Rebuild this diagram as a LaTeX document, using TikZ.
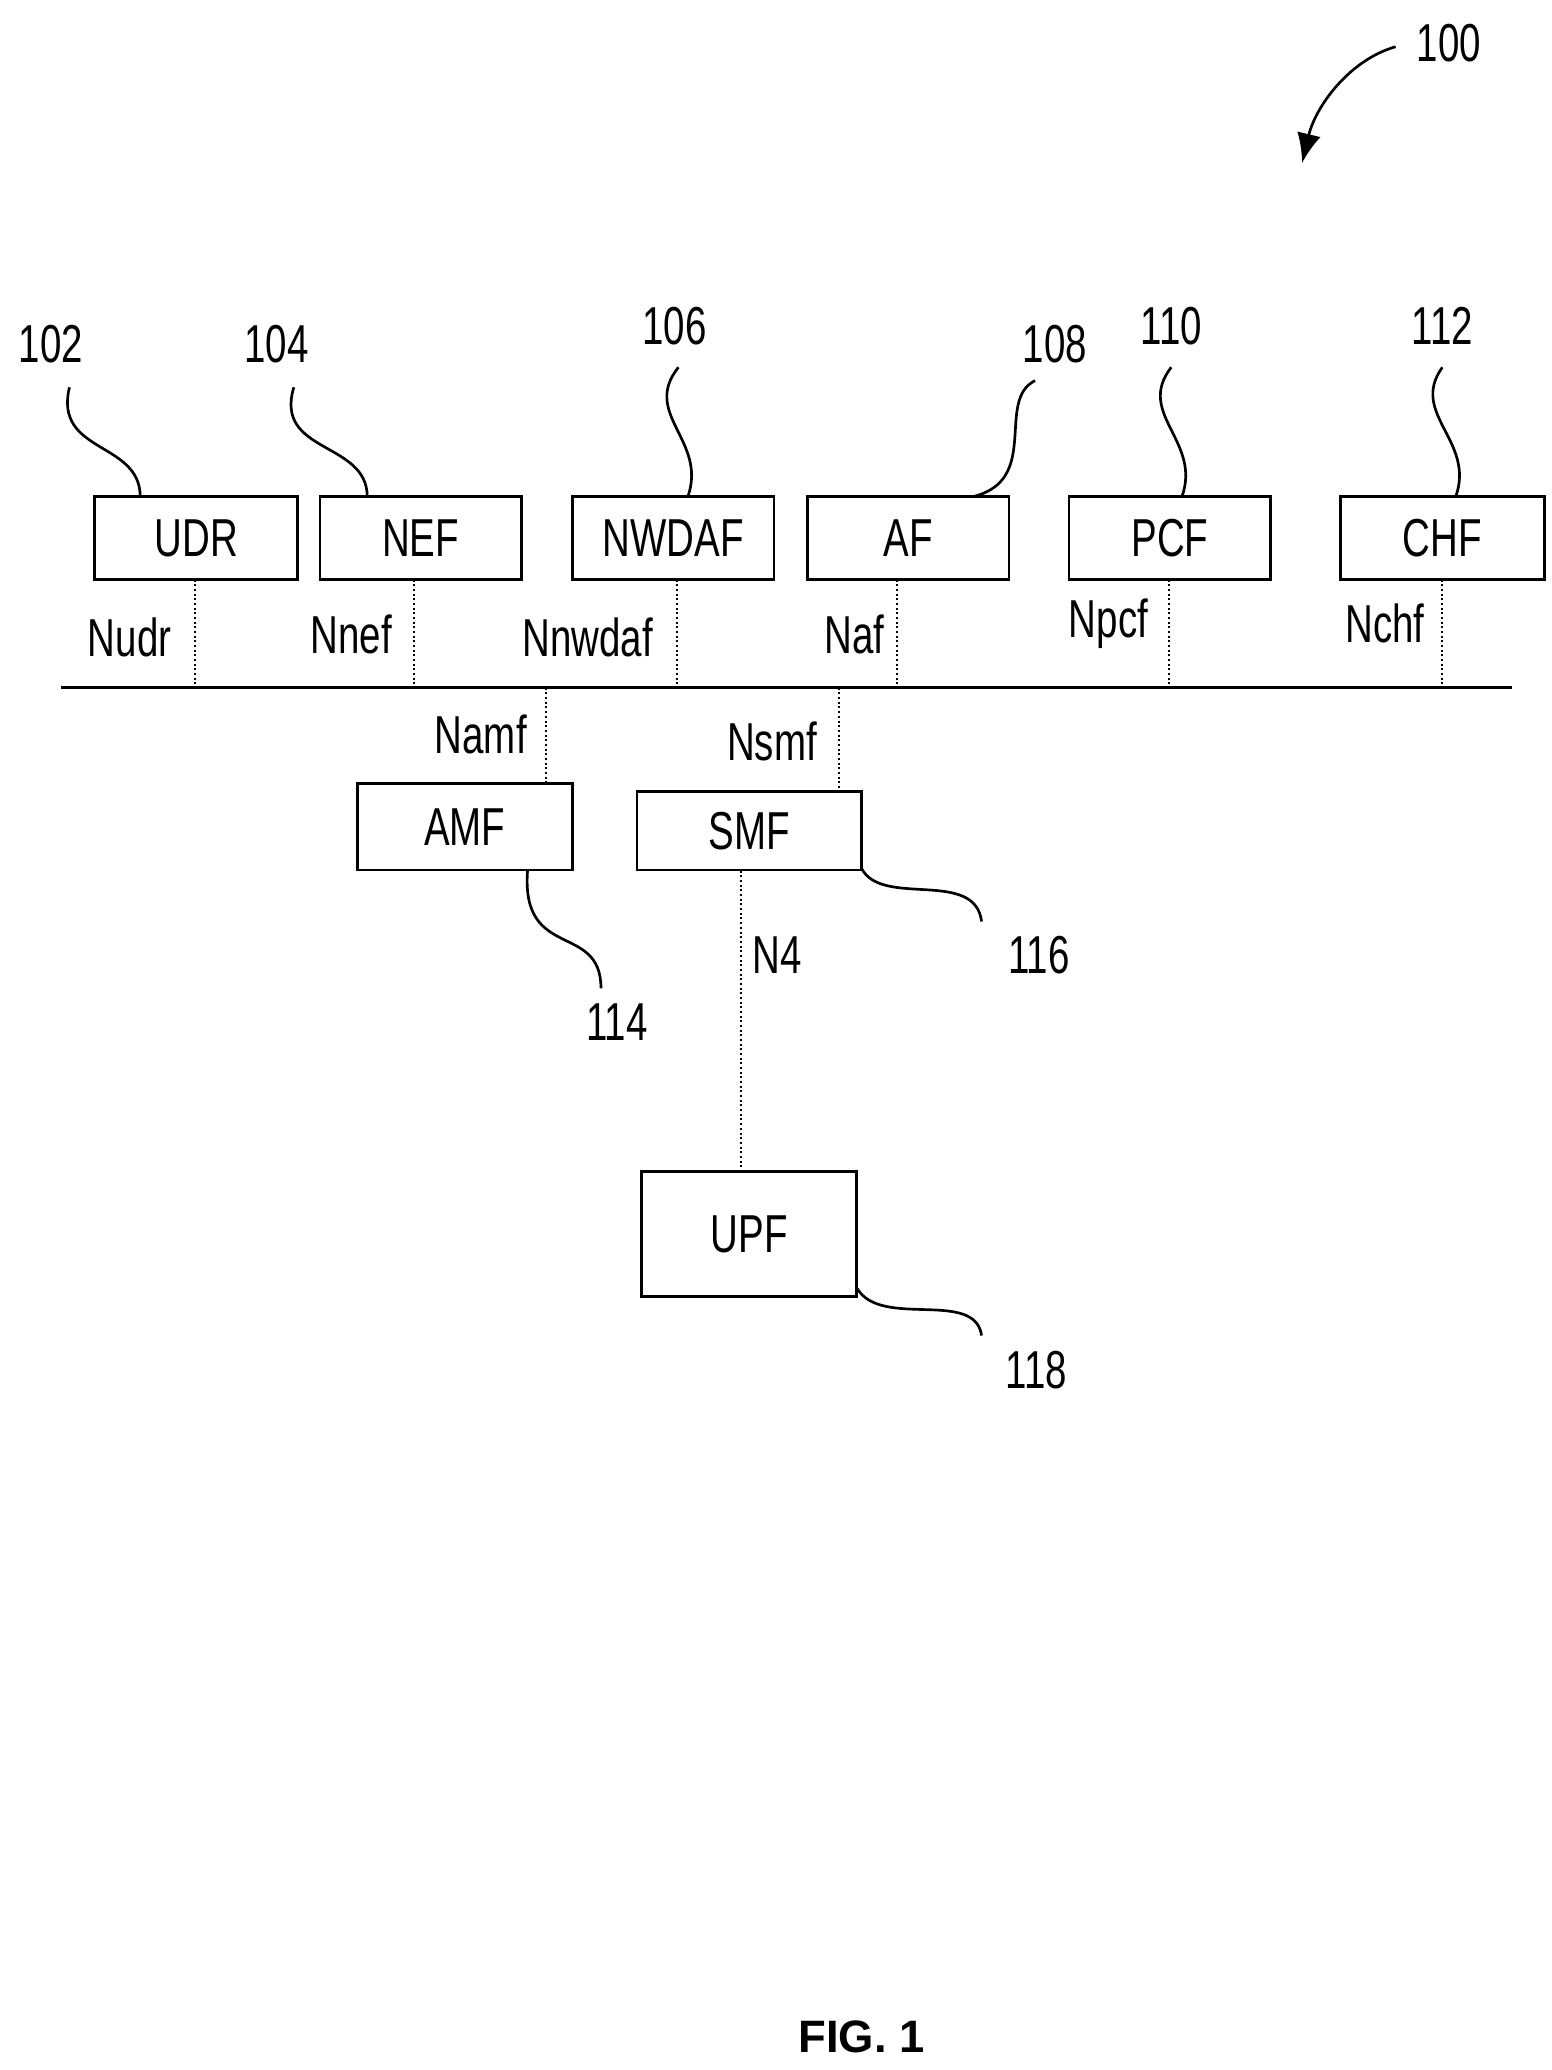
\documentclass[tikz,border=0pt]{standalone}
\usepackage{fontspec}
\usetikzlibrary{arrows.meta}
\setmainfont{Liberation Sans}[FakeStretch=0.72]
\newfontfamily\figfont{Liberation Sans}
\begin{document}
\begin{tikzpicture}[x=1pt,y=-1pt,
  box/.style={draw,line width=2pt,inner sep=0pt,font=\fontsize{40}{44}\selectfont},
  lbl/.style={font=\fontsize{40}{44}\selectfont,inner sep=0pt},
  dl/.style={line width=1.5pt,dotted},
  sq/.style={line width=2pt}]
\useasboundingbox (0,0) rectangle (1162,1550);
\node[box,minimum width=152pt,minimum height=62pt] (udr) at (147,403) {UDR};
\node[box,minimum width=151pt,minimum height=62pt] (nef) at (315,403) {NEF};
\node[box,minimum width=151pt,minimum height=62pt] (nwdaf) at (504,403) {NWDAF};
\node[box,minimum width=151pt,minimum height=62pt] (af) at (680,403) {AF};
\node[box,minimum width=151pt,minimum height=62pt] (pcf) at (876,403) {PCF};
\node[box,minimum width=153pt,minimum height=62pt] (chf) at (1080,403) {CHF};
\node[box,minimum width=161pt,minimum height=65pt] (amf) at (348,619) {AMF};
\node[box,minimum width=168pt,minimum height=59pt] (smf) at (561,622) {SMF};
\node[box,minimum width=161pt,minimum height=94pt] (upf) at (561,924) {UPF};
\coordinate (b1) at (46,515); \coordinate (b2) at (1132,515);
\draw[line width=2pt] (b1) -- (b2);
\foreach \n/\x in {udr/146,nef/310,nwdaf/507,af/672,pcf/875,chf/1080}
  \draw[dl] (\x,434) -- (\x,515);
\draw[dl] (409,515) -- (409,587);
\draw[dl] (628,515) -- (628,593);
\draw[dl] (555,652) -- (555,877);
\node[lbl] (l1) at (97,477) {Nudr};
\node[lbl] (l2) at (263,475) {Nnef};
\node[lbl] (l3) at (440,477) {Nnwdaf};
\node[lbl] (l4) at (640,475) {Naf};
\node[lbl] (l5) at (830,467) {Npcf};
\node[lbl] (l6) at (1037,467) {Nchf};
\node[lbl] (l7) at (360,550) {Namf};
\node[lbl] (l8) at (578,555) {Nsmf};
\node[lbl] (l9) at (582,715) {N4};
\node[lbl] (n102) at (38,258) {102};
\node[lbl] (n104) at (207,258) {104};
\node[lbl] (n106) at (505,244) {106};
\node[lbl] (n108) at (790,258) {108};
\node[lbl] (n110) at (877,244) {110};
\node[lbl] (n112) at (1080,244) {112};
\node[lbl] (n114) at (462,765) {114};
\node[lbl] (n116) at (778,715) {116};
\node[lbl] (n118) at (776,1026) {118};
\node[lbl] (n100) at (1085,32) {100};
\draw[sq] (105,372) .. controls (105,330) and (40,340) .. (52,290);
\draw[sq] (275,372) .. controls (275,330) and (205,340) .. (220,290);
\draw[sq] (515,372) .. controls (530,330) and (480,310) .. (508,275);
\draw[sq] (728,372) .. controls (780,360) and (745,300) .. (775,285);
\draw[sq] (885,372) .. controls (900,330) and (850,310) .. (877,275);
\draw[sq] (1090,372) .. controls (1105,330) and (1055,310) .. (1080,275);
\draw[sq] (395,652) .. controls (390,720) and (450,690) .. (450,740);
\draw[sq] (645,650) .. controls (660,680) and (730,650) .. (735,690);
\draw[sq] (642,965) .. controls (660,995) and (730,965) .. (735,1000);
\draw[sq,-{Latex[length=22pt,width=18pt]}] (1045,35) .. controls (1010,45) and (985,80) .. (975,122);
\node[font=\figfont\bfseries\fontsize{34}{38}\selectfont] (fig) at (645,1525) {FIG. 1};
\end{tikzpicture}
\end{document}
